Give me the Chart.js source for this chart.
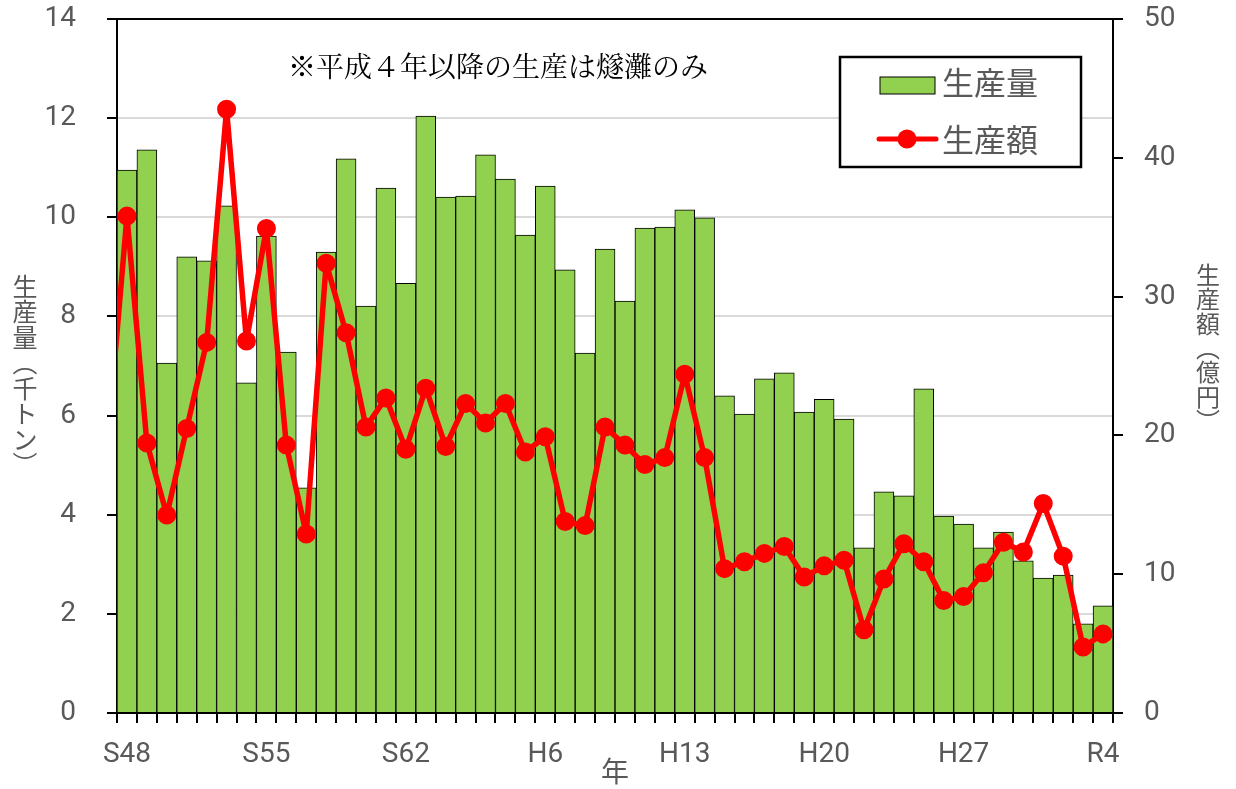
<!DOCTYPE html>
<html>
<head>
<meta charset="utf-8">
<script src="https://cdn.jsdelivr.net/npm/chart.js@4/dist/chart.umd.min.js"></script>
<style>
  html, body { margin: 0; padding: 0; background: #fff; }
</style>
</head>
<body>
<canvas id="chart" width="1236" height="789"></canvas>
<script>
const years = [
  'S48','S49','S50','S51','S52','S53','S54','S55','S56','S57','S58','S59','S60','S61','S62','S63',
  'H1','H2','H3','H4','H5','H6','H7','H8','H9','H10','H11','H12','H13','H14','H15','H16','H17','H18','H19','H20',
  'H21','H22','H23','H24','H25','H26','H27','H28','H29','H30','R1','R2','R3','R4'
];
// 生産量 (千トン)
const volume = [
  10.95, 11.36, 7.06, 9.2, 9.12, 10.23, 6.66, 9.62, 7.28, 4.54,
  9.3, 11.18, 8.21, 10.59, 8.67, 12.04, 10.41, 10.43, 11.26, 10.77,
  9.64, 10.63, 8.94, 7.26, 9.36, 8.31, 9.78, 9.8, 10.15, 9.99,
  6.4, 6.03, 6.74, 6.86, 6.07, 6.33, 5.93, 3.33, 4.46, 4.38,
  6.54, 3.97, 3.81, 3.33, 3.65, 3.07, 2.72, 2.78, 1.8, 2.16
];
// 生産額 (億円)
const amount = [
  35.8, 19.45, 14.26, 20.5, 26.7, 43.5, 26.8, 34.9, 19.3, 12.9,
  32.4, 27.4, 20.6, 22.7, 19.0, 23.4, 19.2, 22.3, 20.9, 22.3,
  18.8, 19.9, 13.8, 13.5, 20.6, 19.3, 17.9, 18.4, 24.4, 18.4,
  10.4, 10.9, 11.5, 12.0, 9.8, 10.6, 11.0, 6.0, 9.65, 12.2,
  10.9, 8.1, 8.4, 10.1, 12.3, 11.6, 15.1, 11.3, 4.75, 5.7
];
// the year before S48, only its segment shows at the left edge
const amountBefore = 19;

const note = '※平成４年以降の生産は燧灘のみ';
const leftTitle = ['生','産','量','︵','千','ト','ン','︶'];
const rightTitle = ['生','産','額','︵','億','円','︶'];

const GREEN = '#92d050';
const RED = '#ff0000';
const GREY = '#595959';
const CJK = '"Noto Sans CJK JP", sans-serif';

Chart.defaults.font.family = 'Roboto, "Noto Sans CJK JP", sans-serif';

// keep the tick padding from pushing the plot down
function fixSide(width) {
  return (scale) => {
    scale.width = width;
    scale.paddingTop = 19;
    scale.paddingBottom = 0;
  };
}

const decor = {
  id: 'decor',
  afterDatasetDraw(chart, args) {
    if (args.index !== 0) return;
    // lead-in segment from the previous year, clipped to the plot
    const { ctx, chartArea: a, scales } = chart;
    const x0 = scales.x.getPixelForValue(0);
    const step = scales.x.getPixelForValue(1) - x0;
    ctx.save();
    ctx.beginPath();
    ctx.rect(a.left, a.top, a.right - a.left, a.bottom - a.top);
    ctx.clip();
    ctx.strokeStyle = RED;
    ctx.lineWidth = 5.5;
    ctx.beginPath();
    ctx.moveTo(x0 - step, scales.y1.getPixelForValue(amountBefore));
    ctx.lineTo(x0, scales.y1.getPixelForValue(amount[0]));
    ctx.stroke();
    ctx.restore();
  },
  afterDraw(chart) {
    const { ctx, chartArea: a } = chart;
    ctx.save();

    // top frame line
    ctx.strokeStyle = '#000';
    ctx.lineWidth = 2;
    ctx.beginPath();
    ctx.moveTo(a.left - 1, a.top);
    ctx.lineTo(a.right + 1, a.top);
    ctx.stroke();

    // note
    ctx.fillStyle = '#000';
    ctx.font = '28px "Noto Serif CJK JP", ' + CJK;
    ctx.textAlign = 'left';
    ctx.textBaseline = 'middle';
    ctx.fillText(note, 288, 66);

    // legend
    ctx.fillStyle = '#fff';
    ctx.fillRect(840, 57, 241, 110);
    ctx.strokeStyle = '#000';
    ctx.lineWidth = 2.5;
    ctx.strokeRect(840, 57, 241, 110);

    const ds = chart.data.datasets;
    ctx.fillStyle = ds[0].backgroundColor;
    ctx.fillRect(880, 77, 55, 17);
    ctx.lineWidth = 1;
    ctx.strokeStyle = '#000';
    ctx.strokeRect(880, 77, 55, 17);

    ctx.strokeStyle = ds[1].borderColor;
    ctx.lineWidth = 5;
    ctx.lineCap = 'round';
    ctx.beginPath();
    ctx.moveTo(879, 139);
    ctx.lineTo(936, 139);
    ctx.stroke();
    ctx.fillStyle = ds[1].borderColor;
    ctx.beginPath();
    ctx.arc(907, 139, 9.5, 0, Math.PI * 2);
    ctx.fill();

    ctx.fillStyle = GREY;
    ctx.font = '32px ' + CJK;
    ctx.textAlign = 'left';
    ctx.fillText(ds[0].label, 942, 83);
    ctx.fillText(ds[1].label, 942, 140);

    // axis titles, stacked upright
    ctx.textAlign = 'center';
    ctx.font = '25px ' + CJK;
    leftTitle.forEach((ch, i) => ctx.fillText(ch, 25, 286 + i * 25.5));
    ctx.font = '24px ' + CJK;
    rightTitle.forEach((ch, i) => ctx.fillText(ch, 1208, 275 + i * 24.3));
    ctx.font = '28px ' + CJK;
    ctx.fillText('年', 615, 771);

    ctx.restore();
  }
};

new Chart(document.getElementById('chart'), {
  type: 'bar',
  data: {
    labels: years,
    datasets: [
      {
        label: '生産量',
        data: volume,
        backgroundColor: GREEN,
        borderColor: '#000',
        borderWidth: 1,
        categoryPercentage: 1,
        barPercentage: 1,
        yAxisID: 'y',
        order: 1
      },
      {
        type: 'line',
        label: '生産額',
        data: amount,
        borderColor: RED,
        backgroundColor: RED,
        borderWidth: 5.5,
        borderJoinStyle: 'round',
        borderCapStyle: 'round',
        pointRadius: 8.5,
        pointBorderWidth: 2,
        pointBackgroundColor: RED,
        pointBorderColor: RED,
        tension: 0,
        yAxisID: 'y1',
        order: 0
      }
    ]
  },
  options: {
    responsive: false,
    animation: false,
    layout: { padding: { top: 19, left: 0, right: 0, bottom: 0 } },
    plugins: {
      legend: { display: false },
      tooltip: { enabled: false }
    },
    scales: {
      x: {
        type: 'category',
        grid: { offset: true, drawOnChartArea: false, color: '#000', tickColor: '#000', tickLength: 10, lineWidth: 2 },
        border: { color: '#000', width: 2 },
        ticks: {
          autoSkip: false,
          maxRotation: 0,
          padding: 15,
          color: GREY,
          font: { size: 28 },
          callback(value, index) { return index % 7 === 0 ? this.getLabelForValue(value) : ''; }
        },
        afterFit(scale) { scale.height = 76; }
      },
      y: {
        position: 'left',
        min: 0,
        max: 14,
        ticks: { stepSize: 2, padding: 31, color: GREY, font: { size: 28 } },
        grid: {
          color: (c) => (c.tick && (c.tick.value === 0 || c.tick.value === 14)) ? 'rgba(0,0,0,0)' : '#d9d9d9',
          tickColor: '#000',
          tickLength: 10,
          lineWidth: 2
        },
        border: { color: '#000', width: 2 },
        afterFit: fixSide(117)
      },
      y1: {
        position: 'right',
        min: 0,
        max: 50,
        ticks: { stepSize: 10, padding: 21, color: GREY, font: { size: 28 } },
        grid: { drawOnChartArea: false, color: '#000', tickColor: '#000', tickLength: 10, lineWidth: 2 },
        border: { color: '#000', width: 2 },
        afterFit: fixSide(123)
      }
    }
  },
  plugins: [decor]
});
</script>
</body>
</html>
